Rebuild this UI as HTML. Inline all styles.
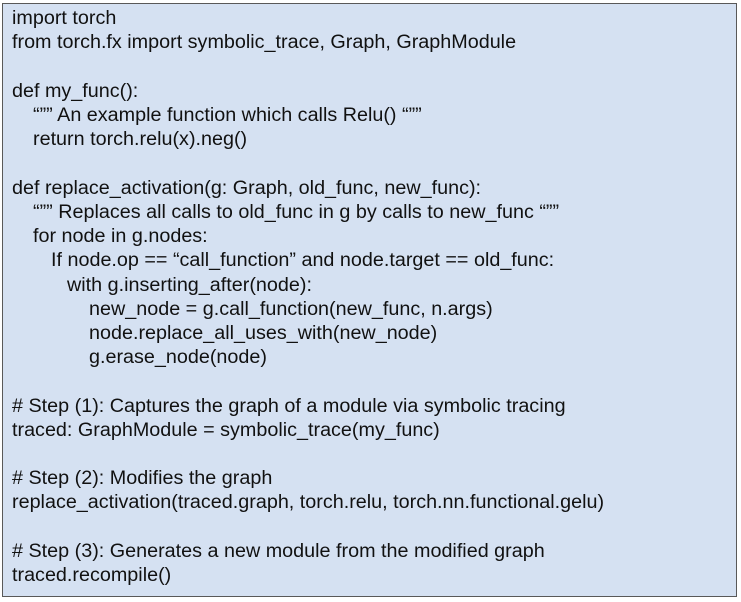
<!DOCTYPE html>
<html><head><meta charset="utf-8"><style>
html,body{margin:0;padding:0;background:#fff;width:741px;height:602px;overflow:hidden}
.box{position:absolute;left:2px;top:3px;width:733px;height:592px;background:#d5e1f2;border:1.5px solid #595959}
.l{position:absolute;font-family:"Liberation Sans",Arial,sans-serif;font-size:19px;color:#111;white-space:pre;line-height:24px;transform:scaleX(1.04);transform-origin:0 50%}
</style></head><body>
<div class="box"></div>
<div class="l" style="left:12px;top:7px">import torch</div>
<div class="l" style="left:12px;top:31px">from torch.fx import symbolic_trace, Graph, GraphModule</div>
<div class="l" style="left:12px;top:80px">def my_func():</div>
<div class="l" style="left:33px;top:104px">“”” An example function which calls Relu() “””</div>
<div class="l" style="left:33px;top:128px">return torch.relu(x).neg()</div>
<div class="l" style="left:12px;top:177px">def replace_activation(g: Graph, old_func, new_func):</div>
<div class="l" style="left:33px;top:201px">“”” Replaces all calls to old_func in g by calls to new_func “””</div>
<div class="l" style="left:33px;top:225px">for node in g.nodes:</div>
<div class="l" style="left:51px;top:249px">If node.op == “call_function” and node.target == old_func:</div>
<div class="l" style="left:67px;top:274px">with g.inserting_after(node):</div>
<div class="l" style="left:89px;top:298px">new_node = g.call_function(new_func, n.args)</div>
<div class="l" style="left:89px;top:322px">node.replace_all_uses_with(new_node)</div>
<div class="l" style="left:89px;top:346px">g.erase_node(node)</div>
<div class="l" style="left:12px;top:395px"># Step (1): Captures the graph of a module via symbolic tracing</div>
<div class="l" style="left:12px;top:419px">traced: GraphModule = symbolic_trace(my_func)</div>
<div class="l" style="left:12px;top:467px"># Step (2): Modifies the graph</div>
<div class="l" style="left:12px;top:491px">replace_activation(traced.graph, torch.relu, torch.nn.functional.gelu)</div>
<div class="l" style="left:12px;top:540px"># Step (3): Generates a new module from the modified graph</div>
<div class="l" style="left:12px;top:564px">traced.recompile()</div>
</body></html>
